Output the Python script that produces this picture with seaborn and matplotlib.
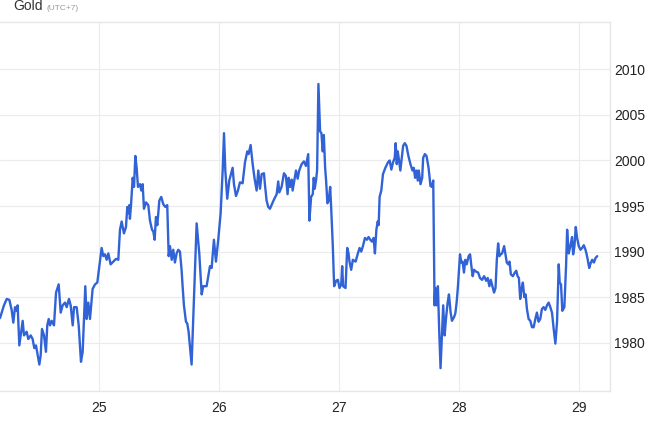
import numpy as np
import pandas as pd
import seaborn as sns
import matplotlib.pyplot as plt

# gold price, x = day of month (fractional)
day = [24.175, 24.208, 24.231, 24.253, 24.272, 24.286, 24.300, 24.314, 24.322, 24.336,
       24.364, 24.375, 24.397, 24.411, 24.431, 24.447, 24.461, 24.475, 24.503, 24.514,
       24.525, 24.542, 24.558, 24.569, 24.581, 24.592, 24.606, 24.625, 24.642, 24.664,
       24.681, 24.697, 24.717, 24.731, 24.750, 24.764, 24.781, 24.792, 24.814, 24.831,
       24.850, 24.864, 24.886, 24.897, 24.911, 24.925, 24.947, 24.967, 24.986, 25.003,
       25.022, 25.036, 25.050, 25.064, 25.078, 25.097, 25.119, 25.142, 25.161, 25.175,
       25.189, 25.208, 25.225, 25.236, 25.244, 25.253, 25.258, 25.267, 25.281, 25.292,
       25.303, 25.314, 25.325, 25.342, 25.353, 25.364, 25.375, 25.392, 25.411, 25.425,
       25.442, 25.453, 25.464, 25.475, 25.486, 25.503, 25.519, 25.536, 25.553, 25.569,
       25.581, 25.592, 25.606, 25.619, 25.633, 25.647, 25.661, 25.675, 25.689, 25.697,
       25.708, 25.725, 25.736, 25.747, 25.772, 25.814, 25.836, 25.856, 25.869, 25.897,
       25.925, 25.939, 25.958, 25.975, 25.994, 26.014, 26.031, 26.042, 26.053, 26.069,
       26.086, 26.114, 26.125, 26.142, 26.158, 26.175, 26.197, 26.217, 26.236, 26.247,
       26.264, 26.281, 26.297, 26.314, 26.328, 26.342, 26.356, 26.375, 26.383, 26.397,
       26.411, 26.425, 26.442, 26.458, 26.481, 26.494, 26.503, 26.522, 26.542, 26.558,
       26.572, 26.581, 26.592, 26.606, 26.614, 26.628, 26.642, 26.656, 26.669, 26.689,
       26.708, 26.725, 26.744, 26.754, 26.768, 26.782, 26.790, 26.798, 26.809, 26.818,
       26.829, 26.843, 26.854, 26.865, 26.874, 26.885, 26.893, 26.904, 26.915, 26.927,
       26.935, 26.949, 26.960, 26.977, 26.991, 27.005, 27.019, 27.027, 27.035, 27.055,
       27.069, 27.080, 27.088, 27.102, 27.116, 27.139, 27.158, 27.172, 27.186, 27.200,
       27.217, 27.233, 27.247, 27.261, 27.275, 27.289, 27.300, 27.312, 27.323, 27.331,
       27.339, 27.353, 27.367, 27.387, 27.409, 27.423, 27.437, 27.451, 27.465, 27.473,
       27.482, 27.490, 27.501, 27.512, 27.524, 27.535, 27.549, 27.563, 27.579, 27.596,
       27.613, 27.624, 27.635, 27.646, 27.657, 27.666, 27.680, 27.694, 27.702, 27.716,
       27.730, 27.747, 27.763, 27.775, 27.786, 27.797, 27.803, 27.814, 27.825, 27.836,
       27.847, 27.858, 27.869, 27.881, 27.892, 27.906, 27.917, 27.931, 27.942, 27.959,
       27.970, 27.981, 27.992, 28.009, 28.020, 28.031, 28.042, 28.053, 28.065, 28.081,
       28.093, 28.104, 28.115, 28.126, 28.143, 28.160, 28.176, 28.193, 28.210, 28.227,
       28.240, 28.254, 28.266, 28.279, 28.293, 28.305, 28.316, 28.327, 28.338, 28.349,
       28.360, 28.377, 28.388, 28.399, 28.411, 28.422, 28.433, 28.450, 28.466, 28.478,
       28.489, 28.500, 28.511, 28.522, 28.533, 28.545, 28.556, 28.567, 28.581, 28.595,
       28.609, 28.623, 28.637, 28.650, 28.664, 28.678, 28.692, 28.706, 28.720, 28.734,
       28.748, 28.762, 28.776, 28.790, 28.804, 28.818, 28.832, 28.840, 28.851, 28.862,
       28.879, 28.893, 28.902, 28.915, 28.929, 28.943, 28.952, 28.963, 28.974, 28.985,
       28.999, 29.013, 29.027, 29.041, 29.055, 29.063, 29.074, 29.086, 29.097, 29.111,
       29.125, 29.139, 29.153]

price = [1982.7, 1984.1, 1984.8, 1984.7, 1983.6, 1982.2, 1983.9, 1983.5, 1984.1, 1979.7,
         1982.4, 1980.8, 1981.2, 1980.4, 1980.8, 1980.4, 1979.4, 1979.7, 1977.6, 1978.6,
         1981.5, 1980.8, 1979.0, 1981.9, 1982.6, 1981.9, 1982.4, 1981.9, 1985.5, 1986.4,
         1983.3, 1984.1, 1984.4, 1983.9, 1984.8, 1984.1, 1981.9, 1983.9, 1983.9, 1981.9,
         1977.9, 1979.0, 1986.2, 1982.6, 1984.4, 1982.6, 1985.9, 1986.4, 1986.6, 1988.4,
         1990.4, 1989.5, 1989.7, 1989.1, 1989.8, 1988.6, 1988.9, 1989.2, 1989.1, 1992.4,
         1993.3, 1992.0, 1992.7, 1994.9, 1994.2, 1995.1, 1993.6, 1995.1, 1998.1, 1997.1,
         2000.5, 1999.2, 1997.1, 1997.4, 1996.7, 1997.4, 1994.7, 1995.4, 1995.1, 1993.4,
         1992.4, 1992.2, 1991.3, 1993.8, 1992.9, 1995.6, 1996.0, 1995.2, 1994.9, 1995.1,
         1989.5, 1990.6, 1989.1, 1990.2, 1988.8, 1989.8, 1990.2, 1990.0, 1987.9, 1986.2,
         1984.1, 1982.3, 1982.1, 1981.2, 1977.6, 1993.1, 1989.8, 1985.3, 1986.2, 1986.2,
         1988.4, 1988.2, 1991.3, 1988.9, 1991.3, 1994.2, 1998.9, 2003.0, 1998.9, 1995.8,
         1997.8, 1999.2, 1997.4, 1996.1, 1996.7, 1997.6, 1997.5, 1999.8, 2001.0, 2000.7,
         2001.7, 1999.6, 1998.0, 1996.7, 1998.9, 1996.9, 1998.5, 1998.6, 1997.4, 1995.6,
         1994.9, 1994.7, 1995.2, 1995.7, 1996.3, 1997.7, 1996.5, 1997.1, 1998.6, 1998.3,
         1996.3, 1998.1, 1997.1, 1997.9, 1996.7, 1997.8, 1998.9, 1998.0, 1998.9, 1999.6,
         1999.9, 1999.4, 2000.7, 1993.4, 1996.0, 1996.3, 1998.1, 1996.9, 1997.8, 1998.9,
         2008.4, 2003.2, 2003.0, 2001.0, 2002.8, 1999.2, 1997.8, 1995.3, 1995.6, 1997.1,
         1994.9, 1990.6, 1986.2, 1986.8, 1986.9, 1986.0, 1986.4, 1988.4, 1986.2, 1986.0,
         1990.4, 1989.8, 1988.9, 1988.0, 1989.1, 1988.9, 1989.8, 1990.4, 1990.0, 1990.6,
         1991.5, 1991.3, 1991.6, 1991.3, 1991.1, 1991.5, 1989.8, 1992.4, 1993.3, 1992.9,
         1996.0, 1996.7, 1998.5, 1999.2, 1999.8, 2000.0, 1999.0, 1999.8, 2000.3, 2001.9,
         1999.6, 2001.0, 2000.0, 1998.9, 2000.3, 2001.6, 2001.9, 2001.6, 2000.5, 1999.6,
         1998.9, 1999.2, 1998.1, 1998.9, 1997.8, 1998.9, 1997.4, 1998.1, 2000.3, 2000.7,
         2000.5, 1999.2, 1997.2, 1997.1, 1997.8, 1984.1, 1986.0, 1984.1, 1986.2, 1981.2,
         1977.2, 1980.8, 1984.1, 1980.8, 1982.6, 1984.4, 1985.3, 1983.3, 1982.4, 1982.8,
         1983.2, 1984.4, 1986.2, 1989.7, 1988.8, 1988.9, 1987.7, 1989.1, 1988.6, 1989.5,
         1989.7, 1988.4, 1987.3, 1988.0, 1987.8, 1987.7, 1987.1, 1986.9, 1987.3, 1986.8,
         1987.1, 1986.2, 1986.9, 1986.2, 1985.5, 1986.0, 1989.1, 1990.9, 1989.5, 1989.7,
         1989.8, 1990.6, 1989.7, 1988.8, 1988.6, 1988.9, 1987.5, 1987.3, 1987.7, 1987.9,
         1987.3, 1987.1, 1984.8, 1985.9, 1986.6, 1985.0, 1985.3, 1983.7, 1982.6, 1982.4,
         1981.7, 1981.7, 1982.6, 1983.3, 1982.3, 1982.6, 1983.7, 1983.9, 1983.6, 1984.1,
         1984.4, 1983.9, 1983.3, 1981.5, 1979.9, 1982.3, 1988.6, 1986.6, 1986.4, 1983.5,
         1983.9, 1988.4, 1992.4, 1989.8, 1990.6, 1991.6, 1989.7, 1990.6, 1992.7, 1991.5,
         1990.6, 1990.2, 1990.4, 1990.7, 1990.2, 1989.8, 1989.1, 1988.2, 1988.7, 1989.1,
         1988.8, 1989.3, 1989.5]

day_ticks = [25, 26, 27, 28, 29]
price_ticks = [1980, 1985, 1990, 1995, 2000, 2005, 2010]

df = pd.DataFrame({"day": day, "price": price})

sns.set_style("white")
plt.rcParams['font.family'] = ['Liberation Sans', 'DejaVu Sans']

fig = plt.figure(figsize=(6.6, 4.32), dpi=100)
ax = fig.add_axes([0.0, 0.095, 0.924, 0.854])

sns.lineplot(data=df, x="day", y="price", ax=ax, estimator=None, sort=False,
             color="#3163d6", linewidth=1.7)

ax.set_xlim(24.175, 29.258)
ax.set_ylim(1974.7, 2015.2)
ax.set_xticks(day_ticks)
ax.set_xticklabels([str(d) for d in day_ticks])
ax.set_yticks(price_ticks)
ax.yaxis.tick_right()
ax.tick_params(axis='both', length=0, labelsize=10, colors="#222222")
ax.tick_params(axis='y', pad=3)
ax.tick_params(axis='x', pad=7)
ax.grid(True, color="#ebebeb", linewidth=0.8)
ax.set_xlabel("")
ax.set_ylabel("")

ax.spines["left"].set_visible(False)
for side in ["top", "bottom", "right"]:
    ax.spines[side].set_color("#e6e6e6")
    ax.spines[side].set_linewidth(1.0)

# title: "Gold" with small grey timezone note on the same baseline
fig.text(0.02, 0.978, "Gold", fontsize=10, color="#333333", va="baseline", ha="left")
fig.text(0.07, 0.978, "(UTC+7)", fontsize=6, color="#999999", va="baseline", ha="left")

fig.savefig("out.png", dpi=100)
